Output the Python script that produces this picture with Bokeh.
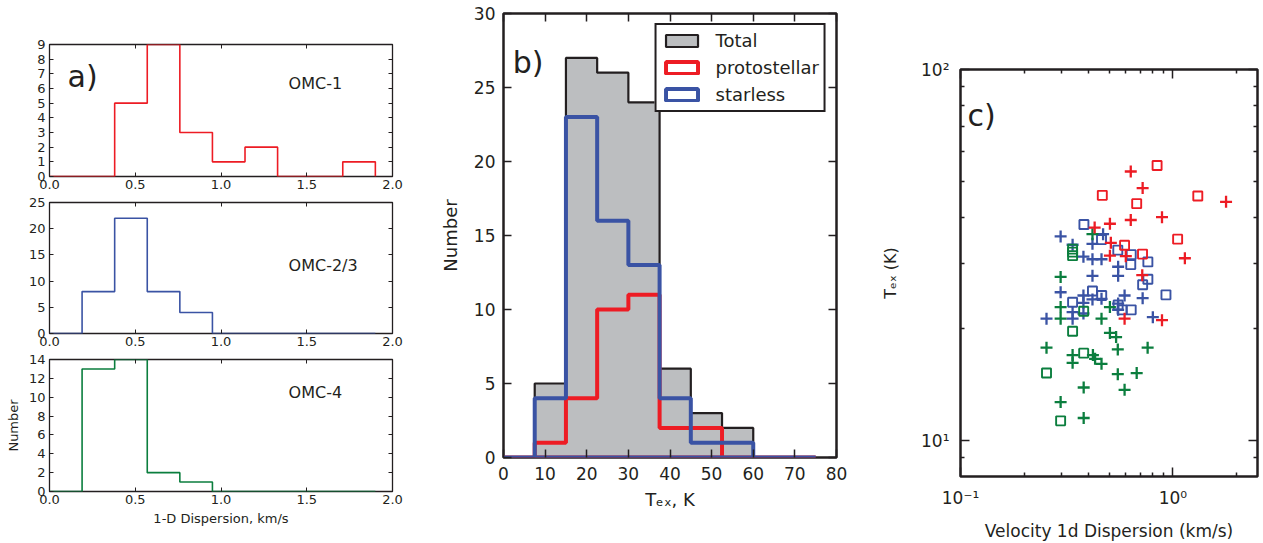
from bokeh.plotting import figure
from bokeh.layouts import row, column
from bokeh.models import (Range1d, FixedTicker, LinearAxis, LogAxis, Label, Legend,
                          LegendItem, PrintfTickFormatter)
from bokeh.embed import file_html
from bokeh.resources import INLINE

FONT = "DejaVu Sans"
INK = "#231F20"
RED = "#ED1C24"
BLUE = "#3A53A4"
GREEN = "#0B7E3E"
GREY = "#BCBEC0"

# ---------------- panel a: 1-D dispersion histograms ----------------
disp_edges = [0.0, 0.19, 0.38, 0.57, 0.76, 0.95, 1.14, 1.33, 1.52, 1.71, 1.90]
omc1_counts = [0, 0, 5, 9, 3, 1, 2, 0, 0, 1]
omc23_counts = [0, 8, 22, 8, 4, 0, 0, 0, 0, 0]
omc4_counts = [0, 13, 14, 2, 1, 0, 0, 0, 0, 0]
region_names = ["OMC-1", "OMC-2/3", "OMC-4"]
disp_ticks = [0.0, 0.5, 1.0, 1.5, 2.0]
omc1_yticks = [0, 1, 2, 3, 4, 5, 6, 7, 8, 9]
omc23_yticks = [0, 5, 10, 15, 20, 25]
omc4_yticks = [0, 2, 4, 6, 8, 10, 12, 14]

# ---------------- panel b: T_ex histograms ----------------
tex_edges = [0, 7.5, 15, 22.5, 30, 37.5, 45, 52.5, 60, 67.5, 75]
total_counts = [0, 5, 27, 26, 24, 6, 3, 2, 0, 0]
proto_counts = [0, 1, 4, 10, 11, 2, 2, 0, 0, 0]
starless_counts = [0, 4, 23, 16, 13, 4, 1, 1, 0, 0]
tex_xticks = [0, 10, 20, 30, 40, 50, 60, 70, 80]
tex_yticks = [0, 5, 10, 15, 20, 25, 30]

# ---------------- panel c: T_ex vs dispersion ----------------
omc1_plus_x = [0.633, 0.720, 1.778, 0.633, 0.888, 0.505, 0.428, 0.51, 0.505, 0.60, 1.138, 0.717, 0.592, 0.888]
omc1_plus_y = [53.1, 47.9, 44.0, 39.3, 40.0, 38.4, 37.5, 34.1, 31.5, 31.4, 31.0, 27.9, 21.3, 21.1]
omc1_sq_x = [0.842, 0.465, 0.675, 1.309, 1.052, 0.592, 0.719]
omc1_sq_y = [55.1, 45.8, 43.5, 45.6, 34.9, 33.6, 31.8]

omc23_plus_x = [0.296, 0.469, 0.337, 0.418, 0.379, 0.418, 0.461, 0.552, 0.552, 0.418, 0.296, 0.379,
                0.418, 0.461, 0.379, 0.552, 0.592, 0.720, 0.552, 0.337, 0.379, 0.254, 0.337, 0.804]
omc23_plus_y = [35.5, 36.0, 33.7, 33.9, 31.3, 30.8, 30.8, 29.4, 27.8, 27.8, 25.1, 24.6,
                24.0, 24.1, 23.5, 23.4, 24.6, 24.2, 22.5, 22.2, 22.0, 21.3, 21.3, 21.5]
omc23_sq_x = [0.381, 0.461, 0.55, 0.636, 0.762, 0.633, 0.762, 0.72, 0.418, 0.462, 0.927, 0.337,
              0.576, 0.636, 0.552]
omc23_sq_y = [38.2, 34.8, 32.6, 31.7, 30.3, 29.8, 27.2, 26.3, 25.3, 24.6, 24.7, 23.6,
              22.5, 22.5, 23.2]

omc4_plus_x = [0.418, 0.296, 0.296, 0.296, 0.505, 0.461, 0.505, 0.54, 0.55, 0.254, 0.76, 0.337,
               0.337, 0.42, 0.43, 0.461, 0.55, 0.675, 0.38, 0.592, 0.296, 0.38]
omc4_plus_y = [36.0, 27.6, 22.9, 21.3, 22.9, 21.3, 19.5, 19.0, 17.6, 17.8, 17.8, 17.0,
               16.2, 17.0, 16.6, 16.1, 15.1, 15.2, 13.9, 13.7, 12.7, 11.5]
omc4_sq_x = [0.337, 0.337, 0.337, 0.38, 0.337, 0.38, 0.254, 0.296]
omc4_sq_y = [32.8, 32.2, 31.5, 22.3, 19.7, 17.2, 15.2, 11.3]

c_xticks = [0.1, 1.0]
c_xminor = [0.2, 0.3, 0.4, 0.5, 0.6, 0.7, 0.8, 0.9, 2.0]
c_yticks = [10.0, 100.0]
c_yminor = [9.0, 20.0, 30.0, 40.0, 50.0, 60.0, 70.0, 80.0, 90.0]
c_xtick_labels = {0.1: "10\u207b\u00b9", 1.0: "10\u2070"}
c_ytick_labels = {10.0: "10\u00b9", 100.0: "10\u00b2"}


def step_xy(edges, counts):
    xs = [edges[0]]
    ys = [0]
    for i, c in enumerate(counts):
        xs += [edges[i], edges[i + 1]]
        ys += [c, c]
    xs.append(edges[-1])
    ys.append(0)
    return xs, ys


def style_axis(ax, size, tick_len, standoff, width=1.0, minor_len=0):
    ax.axis_line_color = None
    ax.major_tick_in = tick_len
    ax.major_tick_out = 0
    ax.minor_tick_in = minor_len
    ax.minor_tick_out = 0
    ax.major_tick_line_color = INK
    ax.major_tick_line_width = width
    ax.minor_tick_line_color = INK if minor_len else None
    ax.minor_tick_line_width = width
    ax.major_label_text_font = FONT
    ax.major_label_text_font_size = f"{size}px"
    ax.major_label_text_color = INK
    ax.major_label_standoff = standoff
    ax.axis_label_text_font = FONT
    ax.axis_label_text_font_style = "normal"
    ax.axis_label_text_color = INK


def mirror_axes(p, xticker, yticker, tick_len, width, minor_len=0, log=False):
    AxisCls = LogAxis if log else LinearAxis
    top = AxisCls(ticker=xticker)
    right = AxisCls(ticker=yticker)
    for ax in (top, right):
        style_axis(ax, 0, tick_len, 0, width, minor_len)
        ax.major_label_text_font_size = "0px"
        ax.major_label_text_alpha = 0
    p.add_layout(top, "above")
    p.add_layout(right, "right")


# ---------------- build panel a ----------------
a_counts = [omc1_counts, omc23_counts, omc4_counts]
a_colors = [RED, BLUE, GREEN]
a_yticks = [omc1_yticks, omc23_yticks, omc4_yticks]
a_label_y = [6.34, 13.0, 10.5]
a_geom = [  # (height, top, bottom)
    (194, 44, 18),
    (157, 8, 18),
    (192, 8, 52),
]
a_figs = []
for k in range(3):
    h, bt, bb = a_geom[k]
    ytk = a_yticks[k]
    p = figure(width=433, height=h, output_backend="svg", toolbar_location=None,
               x_range=Range1d(0, 2.0), y_range=Range1d(ytk[0], ytk[-1]),
               min_border_left=49, min_border_right=41, min_border_top=bt, min_border_bottom=bb)
    p.grid.visible = False
    p.outline_line_color = INK
    p.outline_line_width = 1.3
    p.background_fill_color = "white"
    p.border_fill_color = "white"
    xs, ys = step_xy(disp_edges, a_counts[k])
    p.line(xs, ys, line_color=a_colors[k], line_width=1.6)
    xax = p.xaxis[0]
    yax = p.yaxis[0]
    xax.ticker = FixedTicker(ticks=disp_ticks)
    xax.formatter = PrintfTickFormatter(format="%.1f")
    yax.ticker = FixedTicker(ticks=ytk)
    style_axis(xax, 13, 4, 3)
    style_axis(yax, 13, 4, 4)
    mirror_axes(p, FixedTicker(ticks=disp_ticks), FixedTicker(ticks=ytk), 4, 1.0)
    p.add_layout(Label(x=1.394, y=a_label_y[k], text=region_names[k], text_font=FONT,
                       text_font_size="16px", text_color=INK, text_baseline="middle"))
    if k == 0:
        p.add_layout(Label(x=0.105, y=6.82, text="a)", text_font=FONT, text_font_size="30px",
                           text_color=INK, text_baseline="alphabetic"))
    if k == 2:
        xax.axis_label = "1-D Dispersion, km/s"
        xax.axis_label_text_font_size = "13px"
        xax.axis_label_standoff = 4
        yax.axis_label = "Number"
        yax.axis_label_text_font_size = "13px"
        yax.axis_label_standoff = 5
    a_figs.append(p)

# ---------------- build panel b ----------------
pb = figure(width=445, height=543, output_backend="svg", toolbar_location=None,
            x_range=Range1d(0, 80), y_range=Range1d(0, 30),
            min_border_left=70, min_border_right=42, min_border_top=13, min_border_bottom=86)
pb.grid.visible = False
pb.outline_line_color = INK
pb.outline_line_width = 2.5
tx, ty = step_xy(tex_edges, total_counts)
r_total = pb.patch(tx, ty, fill_color=GREY, line_color=INK, line_width=2.2)
px_, py_ = step_xy(tex_edges, proto_counts)
r_proto = pb.patch(px_, py_, fill_color=None, fill_alpha=0, line_color=RED, line_width=4)
sx, sy = step_xy(tex_edges, starless_counts)
r_star = pb.patch(sx, sy, fill_color=None, fill_alpha=0, line_color=BLUE, line_width=4)
bx = pb.xaxis[0]
by = pb.yaxis[0]
bx.ticker = FixedTicker(ticks=tex_xticks)
by.ticker = FixedTicker(ticks=tex_yticks)
style_axis(bx, 17, 8, 9, 1.5)
style_axis(by, 17, 8, 8, 1.5)
mirror_axes(pb, FixedTicker(ticks=tex_xticks), FixedTicker(ticks=tex_yticks), 8, 1.5)
bx.axis_label = "T\u2091\u2093, K"
bx.axis_label_text_font_size = "18px"
bx.axis_label_standoff = 6
by.axis_label = "Number"
by.axis_label_text_font_size = "18px"
by.axis_label_standoff = 10
legend = Legend(items=[LegendItem(label="Total", renderers=[r_total]),
                       LegendItem(label="protostellar", renderers=[r_proto]),
                       LegendItem(label="starless", renderers=[r_star])],
                location="top_right", margin=10, padding=5, spacing=6,
                glyph_width=40, glyph_height=15, label_standoff=14, label_height=20,
                label_text_font=FONT, label_text_font_size="18px", label_text_color=INK,
                border_line_color=INK, border_line_width=2, border_line_alpha=1.0,
                background_fill_color="white", background_fill_alpha=1.0)
pb.add_layout(legend)
pb.add_layout(Label(x=2.2, y=26.7, text="b)", text_font=FONT, text_font_size="30px",
                    text_color=INK, text_baseline="alphabetic"))

# ---------------- build panel c ----------------
pc = figure(width=385, height=543, output_backend="svg", toolbar_location=None,
            x_axis_type="log", y_axis_type="log",
            x_range=Range1d(0.1, 2.5), y_range=Range1d(8.0, 100.0),
            min_border_left=80, min_border_right=6, min_border_top=69, min_border_bottom=64)
pc.grid.visible = False
pc.outline_line_color = INK
pc.outline_line_width = 2.5
pc.scatter(omc23_plus_x, omc23_plus_y, marker="cross", size=12, line_width=2.3, line_color=BLUE)
pc.scatter(omc23_sq_x, omc23_sq_y, marker="square", size=9, line_width=1.9,
           line_color=BLUE, fill_color=None)
pc.scatter(omc4_plus_x, omc4_plus_y, marker="cross", size=12, line_width=2.3, line_color=GREEN)
pc.scatter(omc4_sq_x, omc4_sq_y, marker="square", size=9, line_width=1.9,
           line_color=GREEN, fill_color=None)
pc.scatter(omc1_plus_x, omc1_plus_y, marker="cross", size=12, line_width=2.3, line_color=RED)
pc.scatter(omc1_sq_x, omc1_sq_y, marker="square", size=9, line_width=1.9,
           line_color=RED, fill_color=None)
cx = pc.xaxis[0]
cy = pc.yaxis[0]
cx.ticker = FixedTicker(ticks=c_xticks, minor_ticks=c_xminor)
cy.ticker = FixedTicker(ticks=c_yticks, minor_ticks=c_yminor)
cx.major_label_overrides = c_xtick_labels
cy.major_label_overrides = c_ytick_labels
style_axis(cx, 17, 9, 11, 1.5, 4)
style_axis(cy, 17, 9, 11, 1.5, 4)
mirror_axes(pc, FixedTicker(ticks=c_xticks, minor_ticks=c_xminor),
            FixedTicker(ticks=c_yticks, minor_ticks=c_yminor), 9, 1.5, 4, log=True)
cx.axis_label = "Velocity 1d Dispersion (km/s)"
cx.axis_label_text_font_size = "17px"
cx.axis_label_standoff = 10
cy.axis_label = "T\u2091\u2093 (K)"
cy.axis_label_text_font_size = "16px"
cy.axis_label_standoff = 18
pc.add_layout(Label(x=0.108, y=75.3, text="c)", text_font=FONT, text_font_size="30px",
                    text_color=INK, text_baseline="alphabetic"))

layout = row(column(*a_figs, spacing=0), column(pb), column(pc), spacing=0)
open("out.html", "w").write(file_html(layout, INLINE))
